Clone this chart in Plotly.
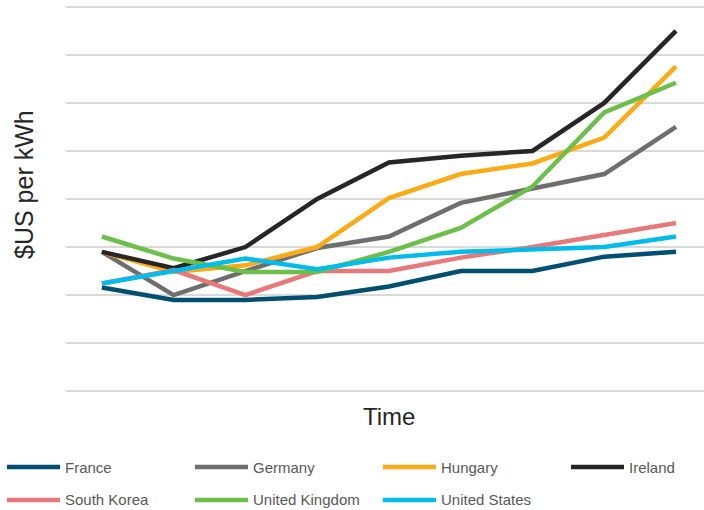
import plotly.graph_objects as go

# Electricity price per kWh (US$) over nine time steps
periods = list(range(9))
series_names = ["France", "Germany", "Hungary", "Ireland",
                "South Korea", "United Kingdom", "United States"]
france = [0.108, 0.095, 0.095, 0.098, 0.109, 0.125, 0.125, 0.140, 0.145]
germany = [0.145, 0.100, 0.125, 0.149, 0.161, 0.196, 0.211, 0.226, 0.275]
hungary = [0.145, 0.124, 0.131, 0.150, 0.201, 0.226, 0.237, 0.264, 0.338]
ireland = [0.145, 0.128, 0.150, 0.200, 0.238, 0.245, 0.250, 0.300, 0.375]
south_korea = [0.112, 0.126, 0.100, 0.125, 0.125, 0.139, 0.150, 0.163, 0.175]
united_kingdom = [0.161, 0.138, 0.124, 0.124, 0.145, 0.170, 0.213, 0.290, 0.321]
united_states = [0.112, 0.125, 0.138, 0.127, 0.139, 0.145, 0.148, 0.150, 0.161]

series_values = [france, germany, hungary, ireland,
                 south_korea, united_kingdom, united_states]
colors = ["#004F71", "#6E6E6E", "#FBAB18", "#262626",
          "#E8787A", "#6CC04A", "#00BCEB"]

FONT = "Liberation Sans, Arial, sans-serif"

fig = go.Figure()
for name, vals, col in zip(series_names, series_values, colors):
    fig.add_trace(go.Scatter(
        x=periods, y=vals, name=name, mode="lines",
        line=dict(color=col, width=4.5),
        showlegend=False, hoverinfo="x+y+name",
    ))

# Page geometry (pixels) used to place the custom legend and titles
W, H = 704, 510
ML, MR, MT, MB = 66, 0, 2, 114
plot_w = W - ML - MR
plot_h = H - MT - MB


def px_x(px):
    return (px - ML) / plot_w


def px_y(py):
    return (H - MB - py) / plot_h


shapes = []
annotations = []

# Legend: two rows of four columns
col_x = [5, 193, 381, 569]
row_y = [467, 500]
for i, (name, col) in enumerate(zip(series_names, colors)):
    x0 = col_x[i % 4]
    y0 = row_y[i // 4]
    shapes.append(dict(
        type="line", xref="paper", yref="paper",
        x0=px_x(x0 + 2), x1=px_x(x0 + 55), y0=px_y(y0), y1=px_y(y0),
        line=dict(color=col, width=4.5),
    ))
    annotations.append(dict(
        xref="paper", yref="paper", x=px_x(x0 + 58), y=px_y(y0),
        xanchor="left", yanchor="middle", showarrow=False, text=name,
        font=dict(family=FONT, size=15, color="#595959"),
    ))

# Axis titles
annotations.append(dict(
    xref="paper", yref="paper", x=px_x(24), y=px_y(185),
    xanchor="center", yanchor="middle", showarrow=False, textangle=-90,
    text="$US per kWh", font=dict(family=FONT, size=25, color="#262626"),
))
annotations.append(dict(
    xref="x", yref="paper", x=4, y=px_y(416),
    xanchor="center", yanchor="middle", showarrow=False,
    text="Time", font=dict(family=FONT, size=24, color="#262626"),
))

fig.update_layout(
    width=W, height=H,
    margin=dict(l=ML, r=MR, t=MT, b=MB, pad=0),
    paper_bgcolor="white", plot_bgcolor="white",
    font=dict(family=FONT),
    showlegend=False,
    shapes=shapes,
    annotations=annotations,
    xaxis=dict(range=[-0.5, 8.39], showgrid=False, zeroline=False,
               showticklabels=False, showline=False, ticks=""),
    yaxis=dict(range=[-0.005, 0.405], tick0=0, dtick=0.05,
               showgrid=True, gridcolor="#D9D9D9", gridwidth=2,
               zeroline=False, showticklabels=False, showline=False,
               ticks=""),
)

fig.write_html("out.html")
